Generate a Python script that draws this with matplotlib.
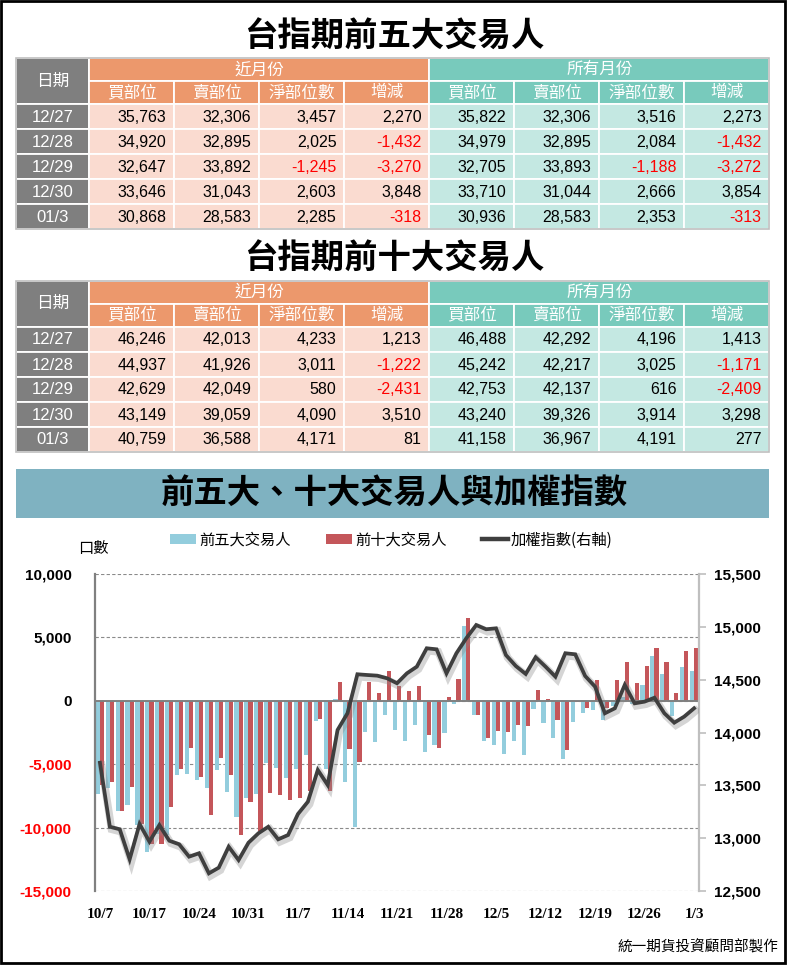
import matplotlib
matplotlib.use('Agg')
import matplotlib.pyplot as plt
import matplotlib.patheffects as pe
from matplotlib.patches import Rectangle, Patch
from matplotlib.lines import Line2D
import numpy as np

plt.rcParams['font.family'] = ['Noto Sans CJK TC', 'DejaVu Sans']

# ---------------- table data ----------------
table_dates = ['12/27', '12/28', '12/29', '12/30', '01/3']
sub_headers = ['買部位', '賣部位', '淨部位數', '增減']

top5_near_buy = [35763, 34920, 32647, 33646, 30868]
top5_near_sell = [32306, 32895, 33892, 31043, 28583]
top5_near_net = [3457, 2025, -1245, 2603, 2285]
top5_near_chg = [2270, -1432, -3270, 3848, -318]
top5_all_buy = [35822, 34979, 32705, 33710, 30936]
top5_all_sell = [32306, 32895, 33893, 31044, 28583]
top5_all_net = [3516, 2084, -1188, 2666, 2353]
top5_all_chg = [2273, -1432, -3272, 3854, -313]

top10_near_buy = [46246, 44937, 42629, 43149, 40759]
top10_near_sell = [42013, 41926, 42049, 39059, 36588]
top10_near_net = [4233, 3011, 580, 4090, 4171]
top10_near_chg = [1213, -1222, -2431, 3510, 81]
top10_all_buy = [46488, 45242, 42753, 43240, 41158]
top10_all_sell = [42292, 42217, 42137, 39326, 36967]
top10_all_net = [4196, 3025, 616, 3914, 4191]
top10_all_chg = [1413, -1171, -2409, 3298, 277]

# ---------------- chart data ----------------
dates = ['10/7', '10/11', '10/12', '10/13', '10/14', '10/17', '10/18', '10/19', '10/20', '10/21',
         '10/24', '10/25', '10/26', '10/27', '10/28', '10/31', '11/1', '11/2', '11/3', '11/4',
         '11/7', '11/8', '11/9', '11/10', '11/11', '11/14', '11/15', '11/16', '11/17', '11/18',
         '11/21', '11/22', '11/23', '11/24', '11/25', '11/28', '11/29', '11/30', '12/1', '12/2',
         '12/5', '12/6', '12/7', '12/8', '12/9', '12/12', '12/13', '12/14', '12/15', '12/16',
         '12/19', '12/20', '12/21', '12/22', '12/23', '12/26', '12/27', '12/28', '12/29', '12/30',
         '1/3']

top5_net = [-7324, -6878, -8663, -8190, -9800, -11950, -10500, -10600, -5828, -5749,
            -6221, -6878, -5434, -7166, -9200, -7639, -7324, -4909, -5290, -6064,
            -5370, -4253, -1575, -5370, 160, -6405, -9949, -2468, -3255, -1129,
            -2310, -3176, -1916, -4043, -3491, -2546, -263, 5933, -1129, -3176,
            -3491, -4200, -3176, -4279, -656, -1759, -2914, -4594, -1680, -971,
            -709, -1549, -446, 300, -250, 1243, 3516, 2084, -1188, 2666,
            2353]

top10_net = [-6615, -6400, -8670, -6799, -9700, -11261, -11300, -8374, -5381, -3715,
             -6011, -8978, -4489, -5828, -10553, -7980, -10300, -7245, -7430, -7796,
             -7639, -7114, -1444, -7090, 1522, -3790, -4790, 1522, 578, 2389,
             1129, 735, 1129, -2678, -3728, 263, 1680, 6563, -1129, -2940,
             -2389, -2468, -1916, -1995, 814, 105, -1536, -3870, -105, -578,
             1601, -550, 1670, 3030, 1365, 2783, 4196, 3025, 616, 3914,
             4191]

taiex = [13714, 13108, 13084, 12800, 13134, 12967, 13124, 12976, 12942, 12825,
         12857, 12667, 12721, 12919, 12793, 12957, 13046, 13108, 12989, 13030,
         13229, 13345, 13645, 13503, 14024, 14182, 14551, 14544, 14538, 14513,
         14466, 14560, 14623, 14797, 14787, 14560, 14750, 14892, 15017, 14977,
         14986, 14733, 14629, 14554, 14712, 14623, 14528, 14750, 14740, 14535,
         14434, 14182, 14229, 14450, 14276, 14292, 14329, 14182, 14093, 14150,
         14229]

left_ticks = [-15000, -10000, -5000, 0, 5000, 10000]
right_ticks = [12500, 13000, 13500, 14000, 14500, 15000, 15500]

# ---------------- figure ----------------
W, H = 788, 966
fig = plt.figure(figsize=(W / 100, H / 100), dpi=100)
bg = fig.add_axes([0, 0, 1, 1])
bg.set_xlim(0, W)
bg.set_ylim(H, 0)
bg.axis('off')

GRAY = '#7F7F7F'
OR_H = '#EC986C'
TE_H = '#78CABC'
OR_L = '#FADBD0'
TE_L = '#C4E8E2'

col_edges = [16.5, 89.5, 174.5, 259.5, 344.5, 429.5, 514.5, 599.5, 684.5, 769.5]
NUM_FONT = ['Liberation Sans', 'DejaVu Sans']


def cell(x0, y0, x1, y1, fc):
    bg.add_patch(Rectangle((x0, y0), x1 - x0, y1 - y0, facecolor=fc,
                           edgecolor='white', lw=1.3))


def draw_table(top, title, columns):
    bg.text(394, top - 21, title, ha='center', va='center', fontsize=24,
            fontweight='bold', color='black')
    r0, r1, r2 = top, top + 23, top + 46
    rows = [r2 + 25 * i for i in range(6)]
    # header
    cell(col_edges[0], r0, col_edges[1], r2, GRAY)
    bg.text((col_edges[0] + col_edges[1]) / 2, (r0 + r2) / 2, '日期', ha='center',
            va='center', fontsize=12, color='white', fontweight='medium')
    cell(col_edges[1], r0, col_edges[5], r1, OR_H)
    cell(col_edges[5], r0, col_edges[9], r1, TE_H)
    bg.text((col_edges[1] + col_edges[5]) / 2, (r0 + r1) / 2, '近月份', ha='center',
            va='center', fontsize=12, color='white', fontweight='medium')
    bg.text((col_edges[5] + col_edges[9]) / 2, (r0 + r1) / 2, '所有月份', ha='center',
            va='center', fontsize=12, color='white', fontweight='medium')
    for k in range(8):
        fc = OR_H if k < 4 else TE_H
        cell(col_edges[k + 1], r1, col_edges[k + 2], r2, fc)
        bg.text((col_edges[k + 1] + col_edges[k + 2]) / 2, (r1 + r2) / 2,
                sub_headers[k % 4], ha='center', va='center', fontsize=12, color='white',
                fontweight='medium')
    # body
    for i, d in enumerate(table_dates):
        y0, y1 = rows[i], rows[i + 1]
        cell(col_edges[0], y0, col_edges[1], y1, GRAY)
        bg.text((col_edges[0] + col_edges[1]) / 2, (y0 + y1) / 2 + 1, d, ha='center',
                va='center', fontsize=12, color='white', family=NUM_FONT)
        for k, col in enumerate(columns):
            fc = OR_L if k < 4 else TE_L
            cell(col_edges[k + 1], y0, col_edges[k + 2], y1, fc)
            v = col[i]
            bg.text(col_edges[k + 2] - 8, (y0 + y1) / 2 + 1, f'{v:,}', ha='right',
                    va='center', fontsize=11.5, family=NUM_FONT,
                    color='#FF0000' if v < 0 else 'black')
    bg.add_patch(Rectangle((col_edges[0], r0), col_edges[9] - col_edges[0],
                           rows[-1] - r0, fill=False, edgecolor='#BFBFBF', lw=1.2))


draw_table(58.3, '台指期前五大交易人',
           [top5_near_buy, top5_near_sell, top5_near_net, top5_near_chg,
            top5_all_buy, top5_all_sell, top5_all_net, top5_all_chg])
draw_table(280.5, '台指期前十大交易人',
           [top10_near_buy, top10_near_sell, top10_near_net, top10_near_chg,
            top10_all_buy, top10_all_sell, top10_all_net, top10_all_chg])

# chart title band
bg.add_patch(Rectangle((16, 469), 753, 49, facecolor='#7FB2C1', edgecolor='none'))
bg.text(394, 493, '前五大、十大交易人與加權指數', ha='center', va='center',
        fontsize=24, fontweight='bold', color='black')

bg.text(93, 548, '口數', ha='center', va='center', fontsize=11)
bg.text(778, 947, '統一期貨投資顧問部製作', ha='right', va='center', fontsize=10.5)
bg.add_patch(Rectangle((1, 1), 784, 962, fill=False, edgecolor='black', lw=2))

# ---------------- chart ----------------
def px_axes(x0, y0, x1, y1):
    return fig.add_axes([x0 / W, 1 - y1 / H, (x1 - x0) / W, (y1 - y0) / H])


ax = px_axes(95, 574, 699, 891)
ax.set_facecolor('none')
x = np.arange(len(dates))
w = 0.42
BLUE = '#93CDDD'
RED = '#C4565A'
ax.bar(x - w / 2, top5_net, w, color=BLUE, zorder=2)
ax.bar(x + w / 2, top10_net, w, color=RED, zorder=2)
ax.set_xlim(-0.5, len(dates) - 0.5)
ax.set_ylim(left_ticks[0], left_ticks[-1])
ax.set_yticks(left_ticks, labels=[f'{t:,}' for t in left_ticks])
for lbl, t in zip(ax.get_yticklabels(), left_ticks):
    lbl.set_color('#FF0000' if t < 0 else 'black')
    lbl.set_fontweight('bold')
    lbl.set_fontsize(11)
    lbl.set_family(NUM_FONT)
ax.tick_params(axis='y', length=0, pad=17)
ax.set_xticks(x[::5], labels=[dates[i] for i in x[::5]])
for lbl in ax.get_xticklabels():
    lbl.set_family(['Liberation Serif', 'DejaVu Serif'])
    lbl.set_fontweight('bold')
    lbl.set_fontsize(11)
ax.tick_params(axis='x', length=0, pad=12)
ax.yaxis.grid(True, linestyle=(0, (3, 2)), color='#8A8A8A', lw=0.8)
ax.set_axisbelow(True)
ax.axhline(0, color='#808080', lw=1.4, zorder=3)
for s in ['top', 'bottom', 'right']:
    ax.spines[s].set_visible(False)
ax.spines['left'].set_color('#808080')
ax.spines['left'].set_linewidth(1.6)

ax2 = ax.twinx()
ax2.plot(x, taiex, color='#3F3F3F', lw=2.7, solid_joinstyle='miter', zorder=5,
         path_effects=[pe.SimpleLineShadow(offset=(1.2, -1.8), shadow_color='#888888',
                                           alpha=0.35, linewidth=5.5), pe.Normal()])
ax2.set_ylim(right_ticks[0], right_ticks[-1])
ax2.set_yticks(right_ticks, labels=[f'{t:,}' for t in right_ticks])
for lbl in ax2.get_yticklabels():
    lbl.set_fontweight('bold')
    lbl.set_fontsize(11)
    lbl.set_family(NUM_FONT)
ax2.tick_params(axis='y', length=5, width=1.2, color='#BFBFBF', pad=6, direction='out')
for s in ['top', 'bottom', 'left']:
    ax2.spines[s].set_visible(False)
ax2.spines['right'].set_color('#BFBFBF')
ax2.spines['right'].set_linewidth(1.6)

handles = [Patch(facecolor=BLUE, edgecolor='none'),
           Patch(facecolor=RED, edgecolor='none'),
           Line2D([0], [0], color='#3F3F3F', lw=3.2)]
fig.legend(handles, ['前五大交易人', '前十大交易人', '加權指數(右軸)'], loc='center',
           bbox_to_anchor=(391.5 / W, 1 - 540 / H), ncol=3, frameon=False, fontsize=11,
           handlelength=1.7, handletextpad=0.2, columnspacing=2.3, handleheight=0.6)

fig.savefig('out.png', dpi=100, facecolor='white')
